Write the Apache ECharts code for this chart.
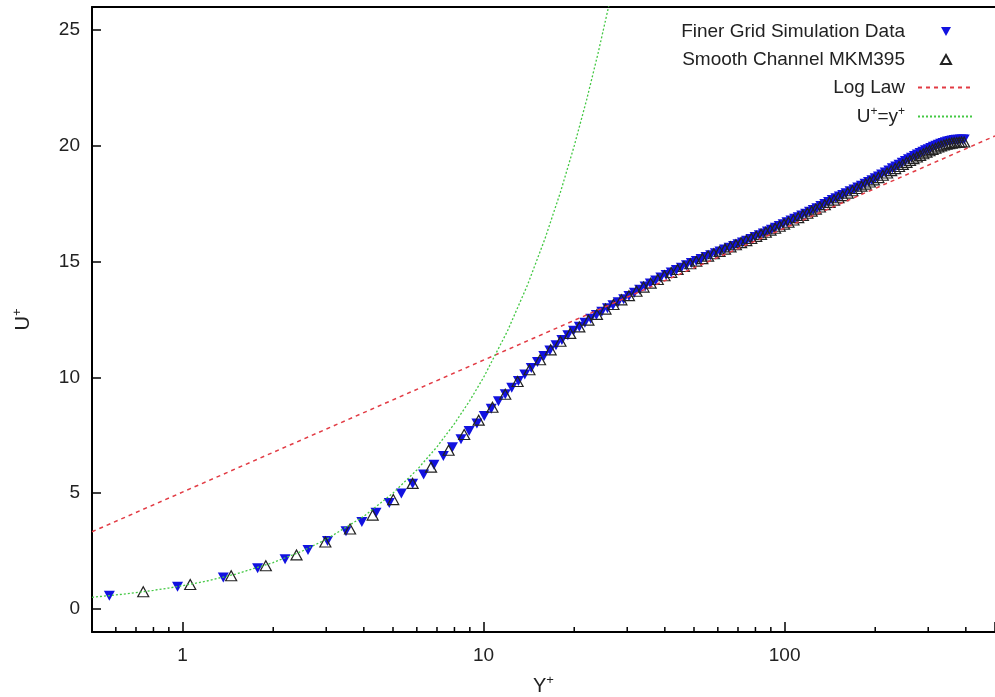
<!DOCTYPE html>
<html><head><meta charset="utf-8">
<script src="https://cdn.jsdelivr.net/npm/echarts@6/dist/echarts.min.js"></script>
<style>html,body{margin:0;padding:0;background:#fff;overflow:hidden;width:995px;height:697px}#c{position:absolute;left:0;top:0;width:995px;height:697px}</style>
</head><body><div id="c"></div>
<script>
// Finer Grid Simulation Data (y+, U+)
const finerY = [0.571,0.962,1.365,1.775,2.19,2.61,3.03,3.49,3.94,4.39,4.86,5.33,5.81,6.32,6.84,7.35,7.88,8.41,8.95,9.5,10.05,10.6,11.2,11.8,12.4,13.05,13.7,14.4,15.1,15.85,16.6,17.4,18.2,19.05,19.9,20.8,21.7,22.7,23.7,24.7,25.8,26.9,28.0,29.2,30.4,31.7,33.0,34.4,35.8,37.3,38.8,40.4,42.0,43.7,45.4,47.2,49.0,50.9,52.8,54.8,56.8,58.9,61.0,63.2,65.4,67.7,70.0,72.4,74.8,77.3,79.8,82.4,85.0,87.7,90.4,93.2,96.0,98.9,101.8,105,108,111,114,117.5,121,124.5,128,132,136,140,144,148,152,156,160,165,170,175,180,185,190,195,200,205,210,216,222,228,234,240,246,252,258,264,270,276,282,288,294,300,306,312,318,324,330,336,342,348,354,360,366,372,378,384,390,395];
const finerU = [0.57,0.95,1.35,1.75,2.14,2.54,2.93,3.35,3.75,4.15,4.57,4.98,5.4,5.8,6.22,6.6,6.98,7.33,7.68,8.01,8.33,8.64,8.97,9.27,9.55,9.84,10.12,10.4,10.66,10.92,11.16,11.39,11.61,11.82,12.01,12.19,12.36,12.53,12.69,12.84,12.99,13.12,13.25,13.38,13.51,13.66,13.79,13.93,14.06,14.19,14.31,14.42,14.53,14.64,14.74,14.84,14.94,15.03,15.11,15.2,15.28,15.36,15.44,15.52,15.6,15.68,15.75,15.83,15.9,15.98,16.06,16.14,16.22,16.3,16.38,16.46,16.54,16.62,16.7,16.78,16.85,16.92,16.99,17.07,17.15,17.23,17.31,17.4,17.49,17.58,17.66,17.74,17.81,17.88,17.95,18.04,18.12,18.2,18.28,18.36,18.44,18.52,18.6,18.68,18.76,18.85,18.94,19.03,19.11,19.19,19.27,19.35,19.42,19.49,19.56,19.63,19.69,19.75,19.81,19.86,19.91,19.96,20.01,20.05,20.09,20.13,20.16,20.19,20.21,20.23,20.25,20.26,20.27,20.28,20.28,20.28];
// Smooth Channel MKM395 (y+, U+)
const mkmY = [0.74,1.06,1.45,1.89,2.39,2.98,3.6,4.28,5.01,5.81,6.69,7.65,8.62,9.63,10.7,11.8,12.97,14.2,15.4,16.7,18.0,19.4,20.8,22.3,23.8,25.4,27.0,28.7,30.4,32.2,34.0,35.9,37.9,39.9,42.0,44.1,46.3,48.6,50.9,53.3,55.7,58.2,60.8,63.4,66.1,68.9,71.7,74.6,77.5,80.5,83.5,86.6,89.8,93.0,96.3,99.6,103,107,111,115,119,123,127,131,136,141,146,151,156,162,168,174,180,186,192,198,205,212,219,226,233,240,247,254,261,268,275,282,289,296,303,310,317,324,331,338,345,352,359,366,373,380,387,395];
const mkmU = [0.74,1.05,1.43,1.86,2.33,2.89,3.45,4.05,4.72,5.42,6.12,6.85,7.53,8.15,8.71,9.27,9.82,10.33,10.76,11.19,11.56,11.9,12.18,12.47,12.72,12.95,13.15,13.35,13.53,13.72,13.9,14.07,14.23,14.39,14.53,14.66,14.79,14.91,15.02,15.13,15.24,15.34,15.44,15.54,15.64,15.73,15.82,15.91,16.0,16.09,16.18,16.27,16.36,16.44,16.53,16.62,16.7,16.8,16.9,17.0,17.09,17.18,17.27,17.36,17.46,17.56,17.66,17.76,17.85,17.96,18.06,18.16,18.26,18.35,18.44,18.53,18.63,18.73,18.83,18.93,19.02,19.11,19.2,19.29,19.37,19.45,19.52,19.59,19.66,19.73,19.79,19.85,19.9,19.95,20.0,20.04,20.07,20.1,20.12,20.14,20.15,20.16,20.17,20.17];
// Log Law line (endpoints read at plot edges)
const logLawY = [0.5, 500];
const logLawU = [3.33, 20.43];
// U+ = y+ line
const linearY = [0.5,0.6,0.7,0.8,0.9,1,1.2,1.5,2,2.5,3,4,5,6,7,8,9,10,12,14,16,18,20,22,24,26,27];
const linearU = [0.5,0.6,0.7,0.8,0.9,1,1.2,1.5,2,2.5,3,4,5,6,7,8,9,10,12,14,16,18,20,22,24,26,27];
// axis settings
const xRange = [0.5, 500];
const yRange = [-1, 26];
const xMinorTicks = [0.6,0.7,0.8,0.9,2,3,4,5,6,7,8,9,20,30,40,50,60,70,80,90,200,300,400];
const seriesNames = ['Finer Grid Simulation Data','Smooth Channel MKM395','Log Law','U+=y+'];

const zip = (a, b) => a.map((v, i) => [v, b[i]]);
const FONT = 'Liberation Sans, Arial, Helvetica, sans-serif';
const supRich = {
  n: {fontSize: 20, fontFamily: FONT, color: '#222'},
  s: {fontSize: 13, fontFamily: FONT, color: '#222', padding: [0, 0, 12, 0]}
};
const legendRich = {
  n: {fontSize: 19, fontFamily: FONT, color: '#222'},
  s: {fontSize: 12, fontFamily: FONT, color: '#222', padding: [0, 0, 9, 0]}
};
const DOWN_TRI = 'path://M0,0 L10,0 L5,9 Z';
const UP_TRI = 'path://M5,0 L10,9 L0,9 Z';

const el = document.getElementById('c');
const chart = echarts.init(el, null, {renderer: 'canvas', width: 995, height: 697});
chart.setOption({
  animation: false,
  backgroundColor: '#fff',
  grid: {left: 92, right: 0, top: 7, bottom: 65, containLabel: false, outerBoundsMode: 'none'},
  legend: {
    data: [
      {name: seriesNames[0]},
      {name: seriesNames[1]},
      {name: seriesNames[2], itemStyle: {opacity: 0}},
      {name: seriesNames[3], itemStyle: {opacity: 0}}
    ],
    orient: 'vertical', right: 15, top: 17, align: 'right',
    itemWidth: 56, itemHeight: 9, itemGap: 9,
    textStyle: {fontSize: 19, fontFamily: FONT, color: '#222', lineHeight: 19, padding: [0, 8, 0, 0], rich: legendRich},
    formatter: name => name === 'U+=y+' ? '{n|U}{s|+}{n|=y}{s|+}' : name
  },
  xAxis: [{
    type: 'log', logBase: 10, min: xRange[0], max: xRange[1],
    position: 'bottom',
    name: '{n|Y}{s|+}', nameLocation: 'middle', nameGap: 42,
    nameTextStyle: {rich: supRich},
    axisLine: {onZero: false, lineStyle: {color: '#000', width: 2}},
    axisTick: {inside: true, length: 10, lineStyle: {color: '#000', width: 1.5}},
    axisLabel: {
      margin: 14, fontSize: 19, fontFamily: FONT, color: '#222',
      formatter: v => { const l = Math.log10(v); return Math.abs(l - Math.round(l)) < 1e-6 ? String(Math.round(v)) : ''; }
    },
    splitLine: {show: false}, minorTick: {show: false}
  }, {
    type: 'log', logBase: 10, min: xRange[0], max: xRange[1], position: 'top',
    axisLine: {show: true, onZero: false, lineStyle: {color: '#000', width: 2}},
    axisTick: {show: false}, axisLabel: {show: false}, splitLine: {show: false}
  }],
  yAxis: {
    type: 'value', min: yRange[0], max: yRange[1],
    name: '{n|U}{s|+}', nameLocation: 'middle', nameRotate: 90, nameGap: 56,
    nameTextStyle: {rich: supRich},
    axisLine: {show: true, onZero: false, lineStyle: {color: '#000', width: 2}},
    axisTick: {inside: true, length: 9, lineStyle: {color: '#000', width: 1.5}},
    axisLabel: {
      margin: 12, fontSize: 19, fontFamily: FONT, color: '#222',
      formatter: v => (v % 5 === 0 ? String(v) : '')
    },
    splitLine: {show: false}
  },
  series: [
    {
      name: seriesNames[0], type: 'scatter', z: 2,
      data: zip(finerY, finerU),
      symbol: DOWN_TRI, symbolSize: [11, 10],
      itemStyle: {color: '#1212e0', opacity: 1}
    },
    {
      name: seriesNames[1], type: 'scatter', z: 3,
      data: zip(mkmY, mkmU),
      symbol: UP_TRI, symbolSize: [11, 10],
      itemStyle: {color: 'rgba(255,255,255,0)', borderColor: '#222', borderWidth: 1.2, opacity: 1}
    },
    {
      name: seriesNames[2], type: 'line', z: 4,
      data: zip(logLawY, logLawU), showSymbol: false, symbol: 'none',
      lineStyle: {color: '#e23b44', width: 1.5, type: [4, 4]},
      itemStyle: {color: '#e23b44'}
    },
    {
      name: seriesNames[3], type: 'line', z: 5,
      data: zip(linearY, linearU), showSymbol: false, symbol: 'none',
      lineStyle: {color: '#44c844', width: 1.3, type: [2, 2]},
      itemStyle: {color: '#44c844'}
    },
    {
      name: 'minorTicks', type: 'custom', z: 6, silent: true,
      data: xMinorTicks.map(v => [v, yRange[0]]),
      renderItem: (params, api) => {
        const p = api.coord([api.value(0), yRange[0]]);
        return {type: 'line', shape: {x1: p[0], y1: p[1], x2: p[0], y2: p[1] - 5},
                style: {stroke: '#000', lineWidth: 1.5}};
      }
    }
  ]
});
</script></body></html>
